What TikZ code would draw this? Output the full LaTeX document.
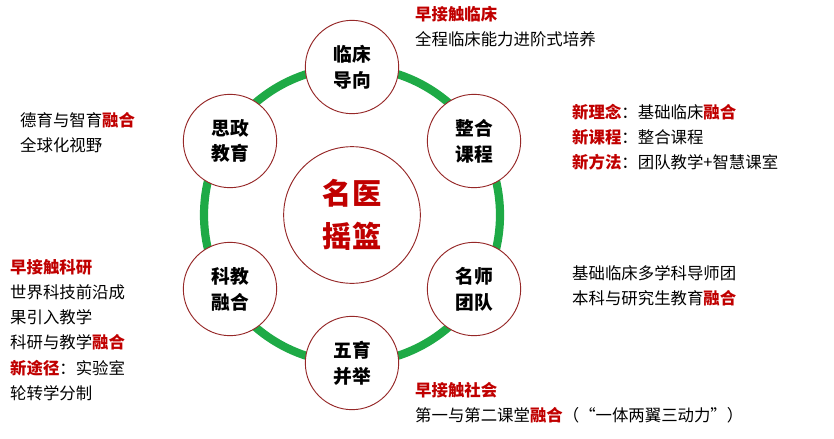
\documentclass[tikz,border=0pt]{standalone}
\usepackage{fontspec}
\setmainfont{Noto Sans CJK SC}
\usetikzlibrary{positioning}
\definecolor{hired}{RGB}{192,0,0}
\definecolor{ringgreen}{RGB}{30,170,70}
\definecolor{edgered}{RGB}{150,40,40}
\tikzset{every node/.style={align=left}, x=0.03cm, y=-0.03cm,
  part/.style={circle, draw=edgered, line width=0.8pt, fill=white, minimum size=2.8cm, align=center, font=\fontsize{16}{22}\selectfont\bfseries},
  note/.style={anchor=north west, inner sep=0pt, font=\fontsize{14}{21.5}\selectfont}}
\newcommand{\hl}[1]{\textcolor{hired}{\textbf{#1}}}

\begin{document}
\begin{tikzpicture}
  \useasboundingbox (0,0) rectangle (834,438);
  \draw[ringgreen, line width=7pt] (352,215) circle [radius=148*0.03cm];
  \node [part, minimum size=4.1cm, font=\fontsize{25}{37}\selectfont\bfseries, text=hired] (core) at (352,215) {名医\\摇篮};
  \node [part] (clin) at (352,67) {临床\\导向};
  \node [part] (zheng) at (474,141) {整合\\课程};
  \node [part] (team) at (474,289) {名师\\团队};
  \node [part] (wuyu) at (352,363) {五育\\并举};
  \node [part] (keji) at (230,289) {科教\\融合};
  \node [part] (sizh) at (230,141) {思政\\教育};

  \node [note] (ntop) at (415,6) {\hl{早接触临床}\\全程临床能力进阶式培养};
  \node [note] (nsz) at (20,112) {德育与智育\hl{融合}\\全球化视野};
  \node [note] (nzh) at (572,104) {\hl{新理念}：基础临床\hl{融合}\\\hl{新课程}：整合课程\\\hl{新方法}：团队教学+智慧课室};
  \node [note] (ntm) at (572,265) {基础临床多学科导师团\\本科与研究生教育\hl{融合}};
  \node [note] (nkj) at (10,259) {\hl{早接触科研}\\世界科技前沿成\\果引入教学\\科研与教学\hl{融合}\\\hl{新途径}：实验室\\轮转学分制};
  \node [note] (nwy) at (415,382) {\hl{早接触社会}\\第一与第二课堂\hl{融合}（“一体两翼三动力”）};
\end{tikzpicture}
\end{document}
